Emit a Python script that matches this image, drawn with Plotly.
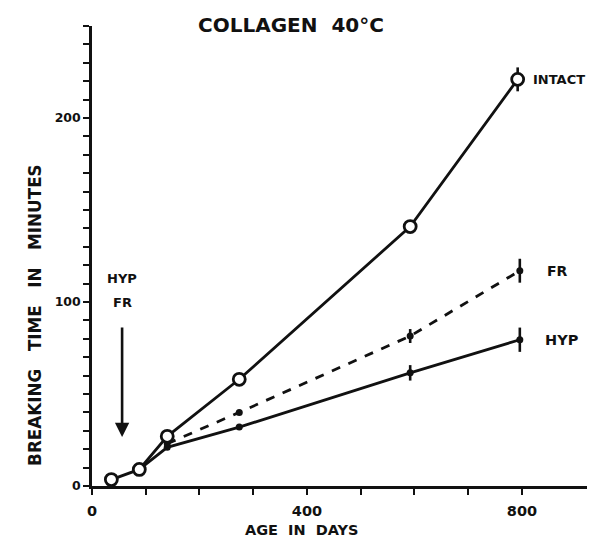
import plotly.graph_objects as go

# Age in days
intact_x = [36, 88, 140, 274, 592, 792]
intact_y = [3.5, 9, 27, 58, 141, 221]
intact_err = [0, 0, 0, 0, 0, 6.5]

fr_x = [140, 274, 592, 796]
fr_y = [23, 40, 81.5, 117]
fr_err = [0, 0, 3.8, 6.5]

hyp_x = [88, 140, 274, 592, 796]
hyp_y = [9, 21, 32, 61.5, 79.5]
hyp_err = [0, 0, 0, 4.2, 6.6]

x_ticks = [0, 100, 200, 300, 400, 500, 600, 700, 800]
x_ticklabels = ["0", "", "", "", "400", "", "", "", "800"]
y_ticks = list(range(0, 251, 10))
y_ticklabels = [str(v) if v in (0, 100, 200) else "" for v in y_ticks]

FONT = "DejaVu Sans"
BLACK = "#111111"
NB = "\u00a0"


def f(size):
    return dict(family=FONT, size=size, color=BLACK, weight="bold")


fig = go.Figure()

fig.add_trace(go.Scatter(
    x=hyp_x, y=hyp_y, mode="lines+markers",
    line=dict(color=BLACK, width=2.8),
    marker=dict(size=7, color=BLACK),
    error_y=dict(type="data", array=hyp_err, width=0, thickness=2.6, color=BLACK),
    showlegend=False))

fig.add_trace(go.Scatter(
    x=fr_x, y=fr_y, mode="lines+markers",
    line=dict(color=BLACK, width=2.8, dash="dash"),
    marker=dict(size=7, color=BLACK),
    error_y=dict(type="data", array=fr_err, width=0, thickness=2.6, color=BLACK),
    showlegend=False))

fig.add_trace(go.Scatter(
    x=intact_x, y=intact_y, mode="lines+markers",
    line=dict(color=BLACK, width=2.8),
    marker=dict(size=12, color="white", line=dict(color=BLACK, width=2.8)),
    error_y=dict(type="data", array=intact_err, width=0, thickness=2.6, color=BLACK),
    showlegend=False))

# series labels
fig.add_annotation(x=intact_x[-1], y=intact_y[-1], text="INTACT", showarrow=False,
                   xanchor="left", xshift=13, font=f(13))
fig.add_annotation(x=fr_x[-1], y=fr_y[-1], text="FR", showarrow=False,
                   xanchor="left", xshift=25, font=f(14))
fig.add_annotation(x=hyp_x[-1], y=hyp_y[-1], text="HYP", showarrow=False,
                   xanchor="left", xshift=23, font=f(14.5))

# arrow marker
fig.add_annotation(x=56, y=26.6, ax=56, ay=87, axref="x", ayref="y", text="",
                   showarrow=True, arrowhead=2, arrowsize=1.1, arrowwidth=2.6,
                   arrowcolor=BLACK)
fig.add_annotation(x=56, y=113, text="HYP", showarrow=False, font=f(13))
fig.add_annotation(x=56, y=99.5, text="FR", showarrow=False, font=f(13))

# title and axis titles
fig.add_annotation(xref="x", yref="paper", x=371, y=1, yshift=1,
                   xanchor="center", yanchor="middle",
                   text="COLLAGEN" + NB * 2 + "40°C", showarrow=False, font=f(20))
fig.add_annotation(xref="x", yref="paper", x=391, y=0, yshift=-44,
                   xanchor="center", yanchor="middle",
                   text="AGE" + NB * 2 + "IN" + NB * 2 + "DAYS", showarrow=False, font=f(14.5))
fig.add_annotation(xref="paper", yref="y", x=0, xshift=-57, y=93,
                   xanchor="center", yanchor="middle", textangle=-90,
                   text="BREAKING" + NB * 3 + "TIME" + NB * 3 + "IN" + NB * 3 + "MINUTES",
                   showarrow=False, font=f(16.8))

# page body has an 8px margin, so the figure is sized to fit the window
fig.update_layout(
    width=596, height=537,
    margin=dict(l=84, r=17, t=18, b=59),
    paper_bgcolor="white", plot_bgcolor="white",
    xaxis=dict(range=[0, 921], tickvals=x_ticks, ticktext=x_ticklabels,
               ticks="outside", ticklen=6, tickwidth=2, tickcolor=BLACK,
               showline=True, linecolor=BLACK, linewidth=2.5,
               showgrid=False, zeroline=False, ticklabelstandoff=4,
               tickfont=f(14.5)),
    yaxis=dict(range=[0, 250], tickvals=y_ticks, ticktext=y_ticklabels,
               ticks="outside", ticklen=6, tickwidth=2, tickcolor=BLACK,
               showline=True, linecolor=BLACK, linewidth=2.5,
               showgrid=False, zeroline=False, ticklabelstandoff=0,
               tickfont=f(12.5)),
)

fig.write_html("out.html")
